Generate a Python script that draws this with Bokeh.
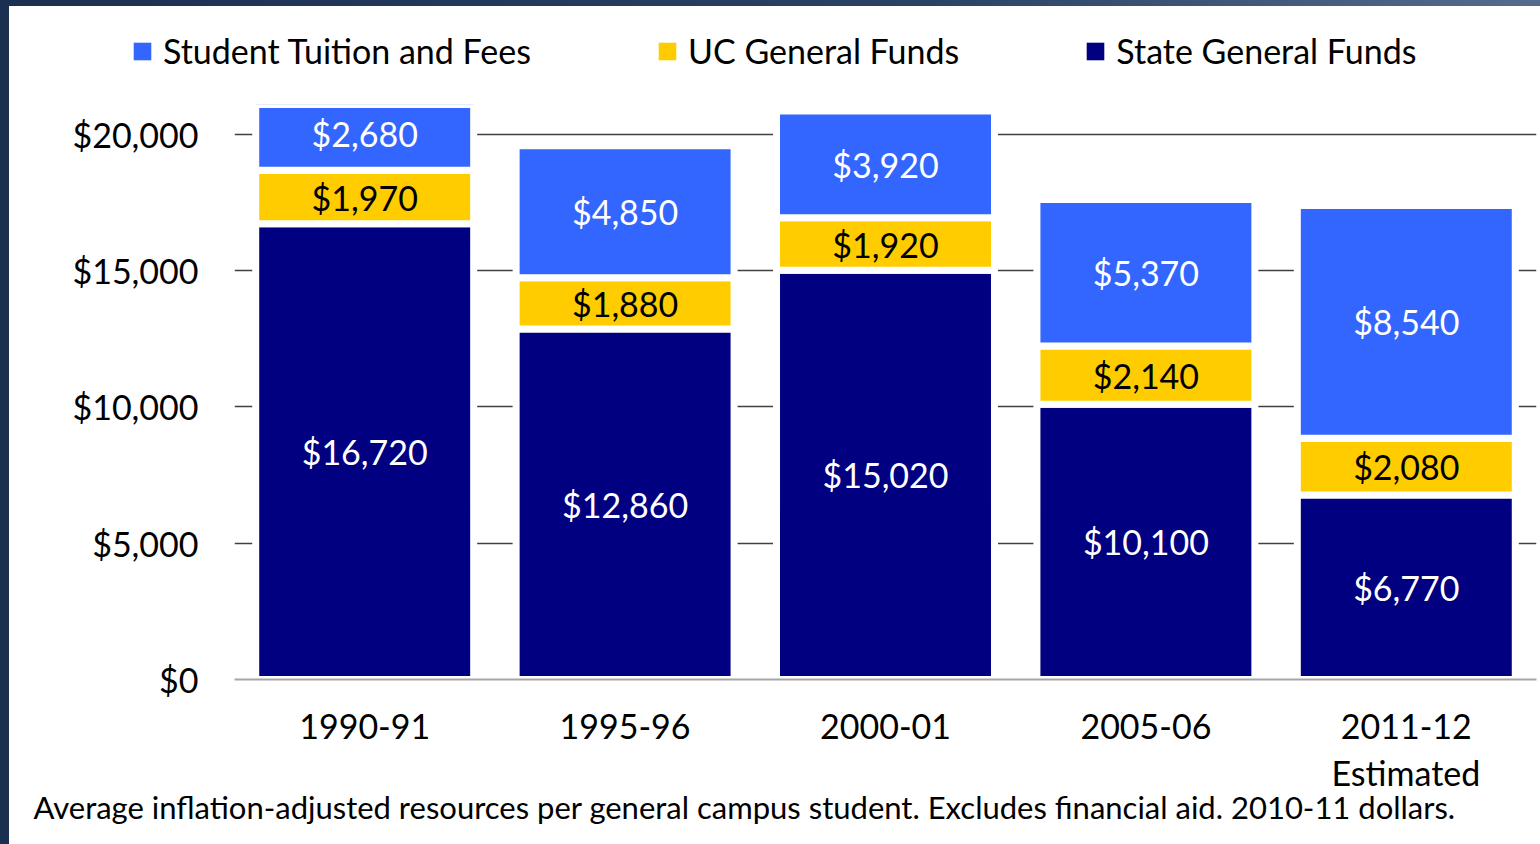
from bokeh.plotting import figure
from bokeh.layouts import column
from bokeh.models import (ColumnDataSource, FactorRange, Range1d, FixedTicker,
                          NumeralTickFormatter, Legend, LegendItem, Title)
from bokeh.core.properties import value
from bokeh.embed import file_html
from bokeh.resources import INLINE

years = ["1990-91", "1995-96", "2000-01", "2005-06", "2011-12"]
state_funds = [16720, 12860, 15020, 10100, 6770]
uc_funds = [1970, 1880, 1920, 2140, 2080]
tuition = [2680, 4850, 3920, 5370, 8540]
y_ticks = [0, 5000, 10000, 15000, 20000]
series_names = ["State General Funds", "UC General Funds", "Student Tuition and Fees"]
colors = ["#000080", "#FFCC00", "#3366FF"]
text_colors = ["white", "black", "white"]
footnote = "Average inflation-adjusted resources per general campus student. Excludes financial aid.  2010-11 dollars."
last_note = "Estimated"

FONT = "Lato"
FS = "34px"

source = ColumnDataSource(dict(year=years, state=state_funds, uc=uc_funds, tuition=tuition))

# ---------------- main chart ----------------
p = figure(x_range=FactorRange(*years), y_range=Range1d(0, 21100),
           width=1531, height=740, output_backend="svg", toolbar_location=None,
           min_border_left=225, min_border_right=4, min_border_top=0, min_border_bottom=165)
p.frame_align = False
p.background_fill_color = "white"
p.border_fill_color = "white"
p.outline_line_color = None

renderers = p.vbar_stack(["state", "uc", "tuition"], x="year", width=0.837, source=source,
                         fill_color=colors, line_color="white", line_width=7)

# value labels
lx, ly, lt, lc = [], [], [], []
for i, yr in enumerate(years):
    base = 0
    for vals, tc in zip([state_funds, uc_funds, tuition], text_colors):
        v = vals[i]
        lx.append(yr)
        ly.append(base + v / 2)
        lt.append("${:,}".format(v))
        lc.append(tc)
        base += v
lsrc = ColumnDataSource(dict(x=lx, y=ly, text=lt, color=lc))
p.text(x="x", y="y", text="text", text_color="color", source=lsrc,
       text_align="center", text_baseline="middle",
       text_font=value(FONT), text_font_size=FS)

# axes
p.yaxis.ticker = FixedTicker(ticks=y_ticks)
p.yaxis.formatter = NumeralTickFormatter(format="$0,0")
p.yaxis.axis_line_color = None
p.yaxis.major_tick_line_color = None
p.yaxis.minor_tick_line_color = None
p.yaxis.major_label_standoff = 30
p.yaxis.major_label_text_font = FONT
p.yaxis.major_label_text_font_size = FS
p.yaxis.major_label_text_color = "black"

p.xaxis.axis_line_color = "#A6A6A6"
p.xaxis.axis_line_width = 2
p.xaxis.major_tick_line_color = None
p.xaxis.minor_tick_line_color = None
p.xaxis.major_label_standoff = 28
p.xaxis.major_label_text_font = FONT
p.xaxis.major_label_text_font_size = FS
p.xaxis.major_label_text_color = "black"

p.xgrid.grid_line_color = None
p.ygrid.grid_line_color = "#404040"
p.ygrid.grid_line_width = 1.5
p.ygrid.ticker = FixedTicker(ticks=y_ticks[1:])

p.add_layout(Title(text=last_note, align="left", offset=1097, standoff=17, text_font=FONT,
                   text_font_size=FS, text_font_style="normal", text_color="black"), "below")
p.add_layout(Title(text=footnote, align="left", offset=-201, standoff=-32, text_font=FONT,
                   text_font_size="31px", text_font_style="normal", text_color="black"), "below")

# ---------------- legend strip on top ----------------
top = figure(width=1531, height=98, output_backend="svg", toolbar_location=None,
             x_range=Range1d(0, 1531), y_range=Range1d(0, 98),
             x_axis_location=None, y_axis_location=None,
             min_border_left=0, min_border_right=0, min_border_top=0, min_border_bottom=0)
top.frame_align = False
top.outline_line_color = None
top.grid.visible = False
top.background_fill_color = "white"
top.border_fill_color = "white"

keys = []
for c in colors:
    keys.append(top.vbar(x=[0], top=[0], bottom=[0], width=0, fill_color=c, line_color=None))

items = [LegendItem(label=series_names[k], renderers=[keys[k]]) for k in [2, 1, 0]]
legend = Legend(items=items, orientation="horizontal", location=(122, 33),
                label_text_font=FONT, label_text_font_size=FS, label_text_color="black",
                glyph_width=22, glyph_height=22, label_standoff=10, spacing=125,
                padding=0, margin=0, border_line_color=None, background_fill_alpha=0)
top.add_layout(legend, "center")

layout = column(top, p, spacing=0)

html = file_html(layout, INLINE)
html = html.replace("</head>",
                    "<style>html{background:linear-gradient(90deg,#1b2f50,#2a4266 60%,#556c8e);"
                    "height:auto !important;overflow:hidden;}"
                    "body{margin:6px 0 0 9px !important;padding:0 !important;background:white;"
                    "height:auto !important;}</style></head>", 1)
open("out.html", "w").write(html)
